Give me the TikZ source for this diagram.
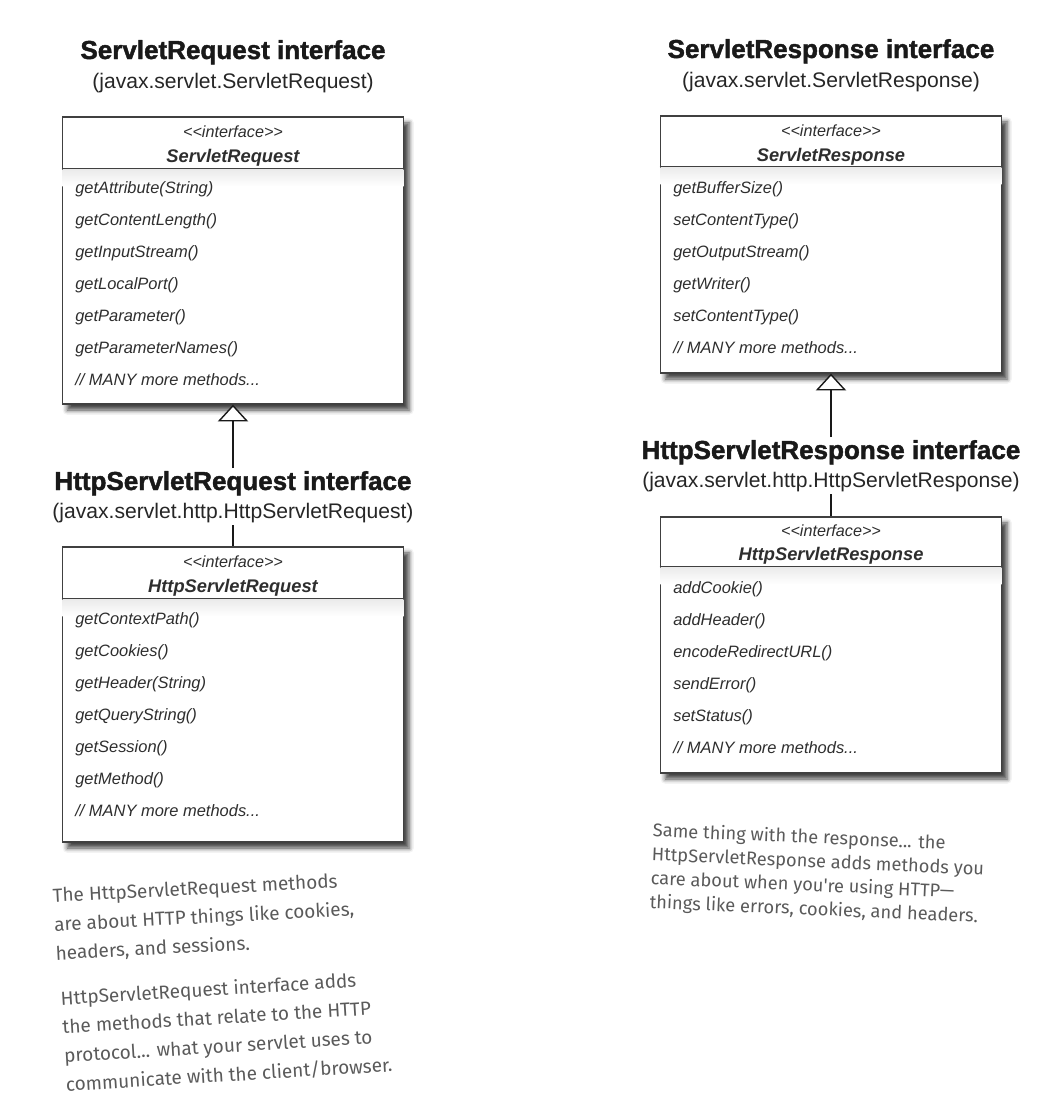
\documentclass[tikz,border=0pt]{standalone}
\usepackage{fontspec}
\setmainfont{Liberation Sans}
\newfontfamily\handfont{Fira Sans}
\usetikzlibrary{arrows.meta,calc,shadows.blur}
\definecolor{boxline}{HTML}{404040}
\definecolor{methodtext}{HTML}{2E2E2E}
\definecolor{handgray}{HTML}{5A5A5A}
\newcommand{\manymethods}{// MANY more methods...}

\begin{document}
\begin{tikzpicture}
  [x=0.025cm, y=-0.025cm,
   title/.style={font=\bfseries\addfontfeatures{FakeBold=1.6}\fontsize{18.5}{22}\selectfont, anchor=base, inner sep=2pt, text=black!90},
   subtitle/.style={font=\fontsize{15}{18}\selectfont, anchor=base, inner sep=2pt, text=black!85},
   umlbox/.style={rectangle, draw=boxline, line width=0.9pt, fill=white, minimum width=8.54cm,
     blur shadow={shadow xshift=0.13cm, shadow yshift=-0.15cm, shadow blur radius=0.12cm, shadow opacity=75}},
   stereo/.style={font=\itshape\fontsize{11.5}{13}\selectfont, anchor=base, inner sep=0pt, text=methodtext},
   classname/.style={font=\bfseries\itshape\fontsize{13}{15}\selectfont, anchor=base, inner sep=0pt, text=methodtext},
   method/.style={font=\itshape\fontsize{11.7}{14}\selectfont, anchor=base west, inner sep=0pt, text=methodtext},
   sepline/.style={draw=boxline, line width=0.9pt},
   headshade/.style={top color=black!8, bottom color=white},
   link/.style={draw=black!90, line width=1.8pt},
   inherit/.style={link, -{Triangle[open, length=0.42cm, width=0.76cm, line width=1pt, fill=white]}},
   note/.style={font=\handfont\fontsize{13.5}{20.5}\selectfont, text=handgray, align=left, anchor=north west, inner sep=0pt}]

  \useasboundingbox (0,0) rectangle (1064,1114);

  % ServletRequest
  \node[title] (reqtitle) at (233,59) {ServletRequest interface};
  \node[subtitle] (reqsub) at (233,88) {(javax.servlet.ServletRequest)};
  \node[umlbox, minimum height=7.175cm] (reqbox) at (233,260.5) {};
  \shade[headshade] ($(reqbox.north west)+(1,53)$) rectangle ($(reqbox.north east)+(-1,70)$);
  \draw[sepline] ($(reqbox.north west)+(0,52)$) -- ($(reqbox.north east)+(0,52)$);
  \node[stereo] (reqstereo) at (233,137) {<\kern0pt<interface>\kern0pt>};
  \node[classname] (reqname) at (233,162) {ServletRequest};
  \foreach \m [count=\i] in {getAttribute(String), getContentLength(), getInputStream(),
      getLocalPort(), getParameter(), getParameterNames(), \manymethods}
    \node[method] (reqm\i) at (75,161+32*\i) {\m};

  % HttpServletRequest
  \node[title] (httpreqtitle) at (233,490) {HttpServletRequest interface};
  \node[subtitle] (httpreqsub) at (233,518) {(javax.servlet.http.HttpServletRequest)};
  \node[umlbox, minimum height=7.375cm] (httpreqbox) at (233,694.5) {};
  \shade[headshade] ($(httpreqbox.north west)+(1,53)$) rectangle ($(httpreqbox.north east)+(-1,70)$);
  \draw[sepline] ($(httpreqbox.north west)+(0,52)$) -- ($(httpreqbox.north east)+(0,52)$);
  \node[stereo] (httpreqstereo) at (233,567) {<\kern0pt<interface>\kern0pt>};
  \node[classname] (httpreqname) at (233,592) {HttpServletRequest};
  \foreach \m [count=\i] in {getContextPath(), getCookies(), getHeader(String), getQueryString(),
      getSession(), getMethod(), \manymethods}
    \node[method] (httpreqm\i) at (75,592+32*\i) {\m};

  \draw[inherit] (httpreqtitle.north) -- (reqbox.south);
  \draw[link] (httpreqbox.north) -- (httpreqsub.south);

  % ServletResponse
  \node[title] (resptitle) at (831,58) {ServletResponse interface};
  \node[subtitle] (respsub) at (831,87) {(javax.servlet.ServletResponse)};
  \node[umlbox, minimum height=6.425cm] (respbox) at (831,244.5) {};
  \shade[headshade] ($(respbox.north west)+(1,52)$) rectangle ($(respbox.north east)+(-1,69)$);
  \draw[sepline] ($(respbox.north west)+(0,51)$) -- ($(respbox.north east)+(0,51)$);
  \node[stereo] (respstereo) at (831,136) {<\kern0pt<interface>\kern0pt>};
  \node[classname] (respname) at (831,161) {ServletResponse};
  \foreach \m [count=\i] in {getBufferSize(), setContentType(), getOutputStream(), getWriter(),
      setContentType(), \manymethods}
    \node[method] (respm\i) at (673,161+32*\i) {\m};

  % HttpServletResponse
  \node[title] (httpresptitle) at (831,459) {HttpServletResponse interface};
  \node[subtitle] (httprespsub) at (831,487) {(javax.servlet.http.HttpServletResponse)};
  \node[umlbox, minimum height=6.4cm] (httprespbox) at (831,645) {};
  \shade[headshade] ($(httprespbox.north west)+(1,51)$) rectangle ($(httprespbox.north east)+(-1,68)$);
  \draw[sepline] ($(httprespbox.north west)+(0,50)$) -- ($(httprespbox.north east)+(0,50)$);
  \node[stereo] (httprespstereo) at (831,536) {<\kern0pt<interface>\kern0pt>};
  \node[classname] (httprespname) at (831,560) {HttpServletResponse};
  \foreach \m [count=\i] in {addCookie(), addHeader(), encodeRedirectURL(), sendError(),
      setStatus(), \manymethods}
    \node[method] (httprespm\i) at (673,561+32*\i) {\m};

  \draw[inherit] (httpresptitle.north) -- (respbox.south);
  \draw[link] (httprespbox.north) -- (httprespsub.south);

  % handwritten notes
  \node[note, rotate=3] (reqnote) at (52,888)
    {The HttpServletRequest methods\\are about HTTP things like cookies,\\headers, and sessions.};
  \node[note, rotate=3.5] (httpreqnote) at (60,990)
    {HttpServletRequest interface adds\\the methods that relate to the HTTP\\protocol... what your servlet uses to\\communicate with the client/browser.};
  \node[note, rotate=-2.5, font=\handfont\fontsize{13}{17}\selectfont] (respnote) at (653,822)
    {Same thing with the response... the\\HttpServletResponse adds methods you\\care about when you're using HTTP—\\things like errors, cookies, and headers.};
\end{tikzpicture}
\end{document}
